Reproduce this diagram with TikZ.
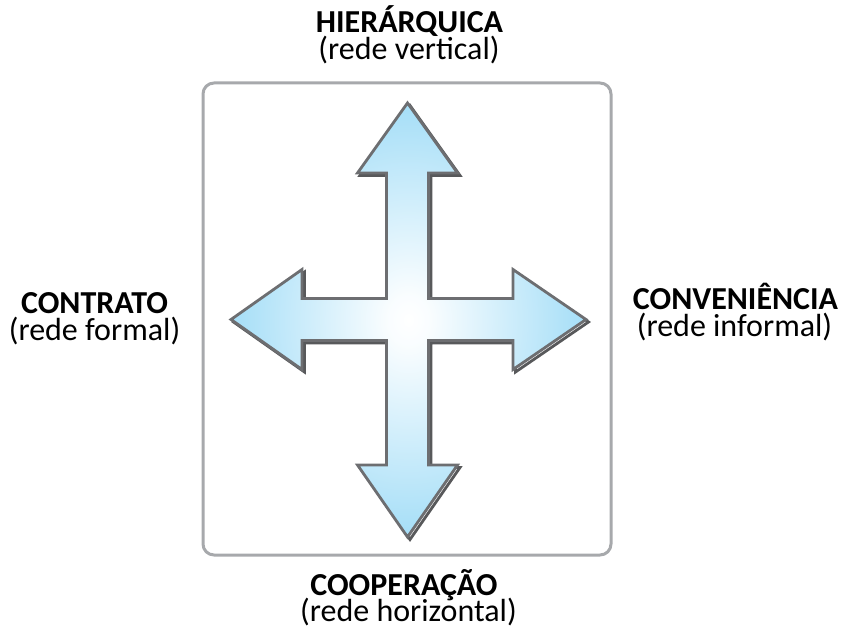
\documentclass[tikz,border=0pt]{standalone}
\usepackage{fontspec}
\setmainfont{Carlito}
\definecolor{sky}{HTML}{8AD4F5}
\definecolor{outl}{HTML}{6D6E71}
\definecolor{shad}{HTML}{58595B}
\definecolor{framec}{HTML}{A7A9AC}
\pgfdeclareradialshading{armshade}{\pgfpoint{0bp}{0bp}}{color(0bp)=(white); color(3bp)=(white!95!sky); color(32bp)=(sky); color(50bp)=(sky)}
\tikzset{
  crossshape/.style={insert path={
    (407.5,103) -- (457.5,173) -- (428.5,173) -- (428.5,298.5) -- (513,298.5) -- (513,269.5)
    -- (586,319.5) -- (513,369.5) -- (513,340.5) -- (428.5,340.5) -- (428.5,465) -- (457.5,465)
    -- (407.5,537) -- (357.5,465) -- (386.5,465) -- (386.5,340.5) -- (302,340.5) -- (302,369.5)
    -- (231,319.5) -- (302,269.5) -- (302,298.5) -- (386.5,298.5) -- (386.5,173) -- (357.5,173) -- cycle}},
  boldlab/.style={font=\fontsize{32}{36}\selectfont\bfseries, inner sep=0pt, anchor=base, text depth=0pt},
  sublab/.style={font=\fontsize{32}{36}\selectfont, inner sep=0pt, anchor=base, text height=23pt},
}
\begin{document}
\begin{tikzpicture}[x=1pt,y=-1pt]
\useasboundingbox (0,0) rectangle (842,628);
\draw[framec, line width=3pt, rounded corners=11pt] (203,83) rectangle (611,555);
\draw[shad, line width=2.8pt, line join=miter, shift={(2.5,2.5)}, crossshape];
\shadedraw[shading=armshade, draw=outl, line width=2.8pt, line join=miter, crossshape];
\node[boldlab] (hier) at (409.5,33) {HIERÁRQUICA};
\node[sublab] (hiersub) at (409,60) {(rede vertical)};
\node[boldlab] (contr) at (94.5,313) {CONTRATO};
\node[sublab] (contrsub) at (94.5,340) {(rede formal)};
\node[boldlab] (conv) at (735.5,309) {CONVENIÊNCIA};
\node[sublab] (convsub) at (734.5,336) {(rede informal)};
\node[boldlab] (coop) at (404,595) {COOPERAÇÃO};
\node[sublab] (coopsub) at (408.5,621) {(rede horizontal)};
\end{tikzpicture}
\end{document}
